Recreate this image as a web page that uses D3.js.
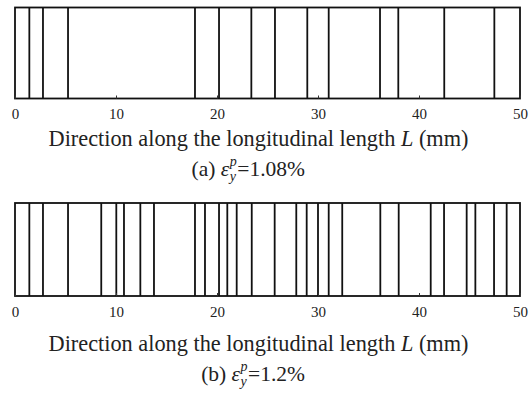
<!DOCTYPE html>
<html>
<head>
<meta charset="utf-8">
<script src="https://cdn.jsdelivr.net/npm/d3@7"></script>
<style>
  body { margin: 0; background: #fff; }
  text { font-family: "Liberation Serif", "Times New Roman", serif; fill: #222; }
</style>
</head>
<body>
<svg id="chart" width="530" height="403"></svg>
<script>
// crack positions along the specimen (mm)
var cracksA = [1.42, 2.77, 5.25, 17.82, 20.2, 23.4, 25.74, 28.94, 31.06, 36.14, 37.95, 42.5, 47.46];
var cracksB = [1.42, 2.77, 5.25, 8.54, 10.03, 10.79, 12.41, 13.76, 17.82, 18.81, 20.2, 21.02,
               21.95, 23.44, 25.71, 27.85, 28.88, 30.0, 31.06, 32.4, 36.17, 37.99, 41.16, 42.48,
               44.72, 45.58, 47.43, 48.68];
var tickValues = [0, 10, 20, 30, 40, 50];
var axisTitle = "Direction along the longitudinal length ";
var captions = [{label: "(a) ", value: "=1.08%"}, {label: "(b) ", value: "=1.2%"}];

var svg = d3.select('#chart');
var x = d3.scaleLinear().domain([0, 50]).range([15, 520]);

var panels = [
    {top: 7.5, bottom: 98.5, data: cracksA, tickY: 119, titleY: 146, capY: 176, cap: captions[0]},
    {top: 203, bottom: 296, data: cracksB, tickY: 317, titleY: 351, capY: 381, cap: captions[1]}
];

var drawPanel = function(p){
    var g = svg.append('g');
    var y = d3.scaleLinear().domain([0, 1]).range([p.bottom, p.top]);

    // crack lines
    g.selectAll('line.crack')
        .data(p.data)
        .enter()
        .append('line')
        .attr('class', 'crack')
        .attr('x1', function(d){ return x(d); })
        .attr('x2', function(d){ return x(d); })
        .attr('y1', y(0))
        .attr('y2', y(1))
        .attr('stroke', '#111')
        .attr('stroke-width', 1.8);

    // frame
    g.append('rect')
        .attr('x', x(0))
        .attr('y', y(1))
        .attr('width', x(50) - x(0))
        .attr('height', y(0) - y(1))
        .attr('fill', 'none')
        .attr('stroke', '#111')
        .attr('stroke-width', 1.8);

    // axis with small inward ticks
    var axis = d3.axisBottom(x).tickValues(tickValues).tickSizeInner(-3).tickSizeOuter(0).tickPadding(8);
    var ax = g.append('g').attr('transform', 'translate(0,' + y(0) + ')').call(axis);
    ax.select('.domain').remove();
    ax.selectAll('.tick line').attr('stroke', '#333').attr('stroke-width', 1);
    ax.selectAll('.tick text')
        .attr('y', null).attr('dy', null)
        .attr('transform', 'translate(0,' + (p.tickY - y(0)) + ')')
        .style('font-family', '"Liberation Serif", serif')
        .style('font-size', '15px')
        .style('fill', '#222');

    // axis title
    var t = g.append('text')
        .attr('x', 258.5)
        .attr('y', p.titleY)
        .attr('text-anchor', 'middle')
        .style('font-size', '22.3px');
    t.append('tspan').text(axisTitle);
    t.append('tspan').style('font-style', 'italic').text('L');
    t.append('tspan').text(' (mm)');

    // caption with stacked sub/superscript
    var cg = g.append('g');
    var c1 = cg.append('text').attr('x', 0).attr('y', p.capY).style('font-size', '21.5px');
    c1.append('tspan').text(p.cap.label);
    c1.append('tspan').style('font-style', 'italic').text('ε');
    var w1 = c1.node().getComputedTextLength();
    var sup = cg.append('text').attr('x', w1 + 0.5).attr('y', p.capY - 10)
        .style('font-size', '14px').style('font-style', 'italic').text('p');
    var sub = cg.append('text').attr('x', w1 + 0.5).attr('y', p.capY + 5)
        .style('font-size', '14px').style('font-style', 'italic').text('y');
    var w2 = w1 + 1 + Math.max(sup.node().getComputedTextLength(), sub.node().getComputedTextLength());
    var c2 = cg.append('text').attr('x', w2).attr('y', p.capY).style('font-size', '21.5px').text(p.cap.value);
    var total = w2 + c2.node().getComputedTextLength();
    cg.attr('transform', 'translate(' + (305 - total) + ',0)');
};

panels.forEach(drawPanel);
</script>
</body>
</html>
